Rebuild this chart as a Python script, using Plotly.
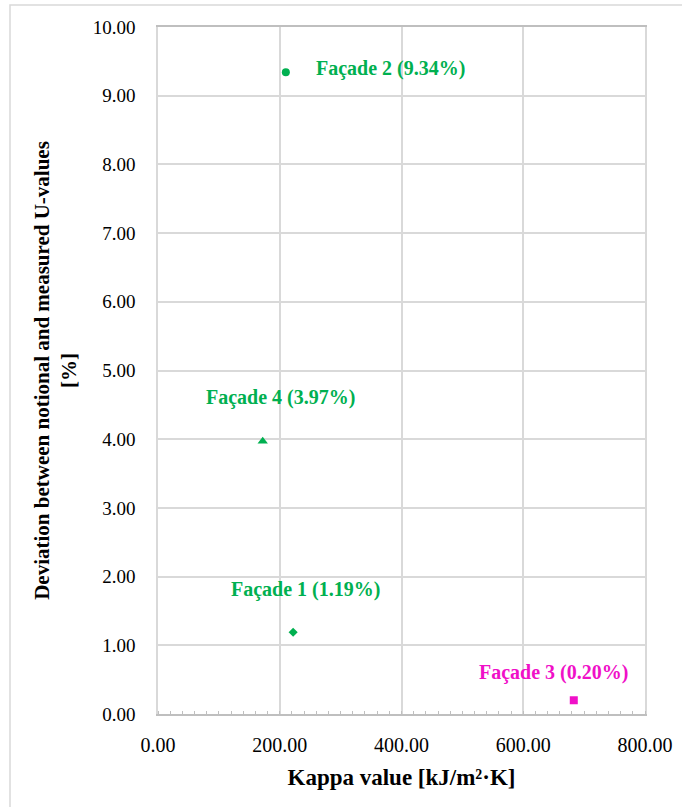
import plotly.graph_objects as go

# Facade measurements
facades = ["Façade 1", "Façade 2", "Façade 3", "Façade 4"]
kappa = [222.0, 210.0, 683.0, 172.0]          # kJ/m²·K
deviation = [1.19, 9.34, 0.20, 3.97]          # %
symbols = ["diamond", "circle", "square", "triangle-up"]
sizes = [7, 8, 8, 9]
colors = ["#00B050", "#00B050", "#F010C8", "#00B050"]
# label offsets (px) relative to each point
label_dx = [12, 105, -20, 18]
label_dy = [43, 4, 28, 44]

x_ticks = [0, 200, 400, 600, 800]
y_ticks = [0, 1, 2, 3, 4, 5, 6, 7, 8, 9, 10]

SERIF = "Liberation Serif, Times New Roman, serif"
GRID = "#D9D9D9"

fig = go.Figure()
for name, xv, yv, sym, sz, col in zip(facades, kappa, deviation, symbols, sizes, colors):
    fig.add_trace(go.Scatter(
        x=[xv], y=[yv], mode="markers", name=name,
        marker=dict(symbol=sym, size=sz, color=col, line=dict(width=0)),
        showlegend=False,
    ))

for name, xv, yv, col, dx, dy in zip(facades, kappa, deviation, colors, label_dx, label_dy):
    fig.add_annotation(
        x=xv, y=yv, xref="x", yref="y", showarrow=False,
        text=f"<b>{name} ({yv:.2f}%)</b>",
        font=dict(family=SERIF, size=20, color=col),
        xshift=dx, yshift=dy, xanchor="center", yanchor="middle",
    )

# outer chart frame
fig.add_shape(type="rect", xref="paper", yref="paper",
              x0=(10 - 158) / 487, x1=(700 - 158) / 487,
              y0=(714 - 830) / 687, y1=(714 - 5) / 687,
              line=dict(color=GRID, width=1.5), fillcolor="rgba(0,0,0,0)", layer="below")

fig.update_xaxes(
    range=[0, 800], tickvals=x_ticks, ticktext=[f"{v:.2f}" for v in x_ticks],
    showgrid=True, gridcolor=GRID, gridwidth=1.5,
    showline=True, linecolor="#BFBFBF", linewidth=1.5, mirror=True,
    zeroline=False, ticks="", ticklen=0, ticklabelstandoff=12,
    minor=dict(dtick=20, ticks="inside", ticklen=3, tickcolor="#BFBFBF", showgrid=False),
    tickfont=dict(family=SERIF, size=20, color="black"),
    title=dict(text="<b>Kappa value [kJ/m²·K]</b>", font=dict(family=SERIF, size=23, color="black"),
               standoff=14),
)
fig.update_yaxes(
    range=[0, 10], tickvals=y_ticks, ticktext=[f"{v:.2f}" for v in y_ticks],
    showgrid=True, gridcolor=GRID, gridwidth=1.5,
    showline=True, linecolor=GRID, linewidth=1.5, mirror=True,
    zeroline=False, ticks="", ticklen=0, ticklabelstandoff=17,
    tickfont=dict(family=SERIF, size=19, color="black"),
    title=dict(text="<b>Deviation between notional and measured U-values<br>[%]</b>",
               font=dict(family=SERIF, size=21, color="black"), standoff=10),
)

fig.update_layout(
    width=682, height=807,
    margin=dict(l=158, r=37, t=27, b=93, autoexpand=False),
    paper_bgcolor="white", plot_bgcolor="white",
)

fig.write_html("out.html")
